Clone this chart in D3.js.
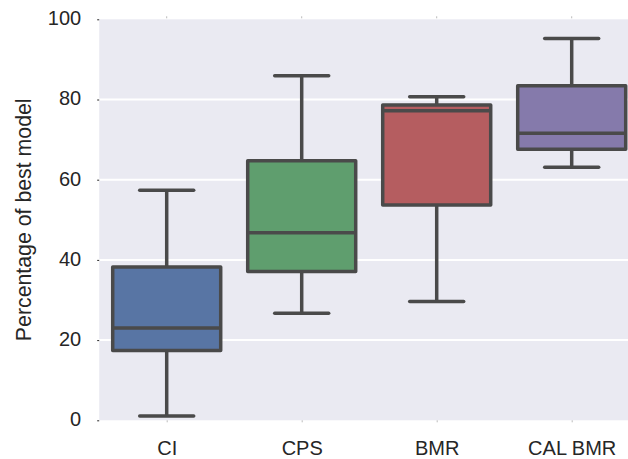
<!DOCTYPE html>
<html>
<head>
<meta charset="utf-8">
<script src="https://cdn.jsdelivr.net/npm/d3@7"></script>
<style>
  html, body { margin: 0; padding: 0; background: #fff; }
  svg { display: block; font-family: "Liberation Sans", Arial, sans-serif; }
</style>
</head>
<body>
<svg id="chart" width="628" height="459"></svg>
<script>
// ---- data ----
const categories = ["CI", "CPS", "BMR", "CAL BMR"];
const whiskerLow  = [1.1, 26.7, 29.6, 63.1];
const q1          = [17.4, 37.1, 53.7, 67.6];
const medians     = [23.0, 46.8, 77.2, 71.6];
const q3          = [38.2, 64.7, 78.6, 83.4];
const whiskerHigh = [57.4, 85.9, 80.7, 95.2];
const boxColors   = ["#5875a4", "#5f9e6e", "#b55d60", "#857aab"];
const yTicks      = [0, 20, 40, 60, 80, 100];
const yLabel      = "Percentage of best model";

(function () {
// ---- layout ----
const pL = 99.2, pR = 639.2, pT = 19.3, pB = 420.3;
const svg = d3.select("#chart");

const x = d3.scalePoint().domain(categories).range([pL, pR]).padding(0.5);
const y = d3.scaleLinear().domain([0, 100]).range([pB, pT]);
const step = x.step();
const boxW = step * 0.8;
const capW = boxW * 0.5;
const lineColor = "#4a4a4a";
const lw = 3.5;

// background
svg.append("rect")
  .attr("x", pL).attr("y", pT)
  .attr("width", pR - pL).attr("height", pB - pT)
  .attr("fill", "#eaeaf2");

// grid lines
svg.append("g").selectAll("line")
  .data(yTicks.filter(d => d > 0 && d < 100))
  .join("line")
  .attr("x1", pL).attr("x2", pR)
  .attr("y1", d => y(d)).attr("y2", d => y(d))
  .attr("stroke", "#ffffff").attr("stroke-width", 2);

// y axis
const yAxis = d3.axisLeft(y).tickValues(yTicks).tickSize(2).tickPadding(16);
const gy = svg.append("g").attr("transform", `translate(${pL},0)`).call(yAxis);
gy.select(".domain").remove();
gy.selectAll(".tick line").attr("stroke", "#262626").attr("stroke-width", 1);
gy.selectAll(".tick text")
  .attr("font-size", 20).attr("fill", "#262626")
  .attr("dy", null).attr("y", 5.3)
  .style("font-family", "'Liberation Sans', Arial, sans-serif");

// x axis
const xAxis = d3.axisBottom(x).tickSize(2).tickPadding(24);
const gx = svg.append("g").attr("transform", `translate(0,${pB})`).call(xAxis);
gx.select(".domain").remove();
gx.selectAll(".tick line").attr("stroke", "#bbbbbb").attr("stroke-width", 1);
gx.selectAll(".tick text")
  .attr("font-size", 20).attr("fill", "#262626")
  .attr("dy", null).attr("y", 34.7)
  .style("font-family", "'Liberation Sans', Arial, sans-serif");

// top tick marks
svg.append("g").selectAll("line").data(categories).join("line")
  .attr("x1", d => x(d)).attr("x2", d => x(d))
  .attr("y1", pT - 3).attr("y2", pT - 1)
  .attr("stroke", "#bbbbbb").attr("stroke-width", 1);

// y label
svg.append("text")
  .attr("transform", `translate(30.5,${(pT + pB) / 2}) rotate(-90)`)
  .attr("text-anchor", "middle")
  .attr("font-size", 21.3)
  .attr("fill", "#262626")
  .text(yLabel);

// boxes
const data = categories.map((c, i) => ({
  c, lo: whiskerLow[i], q1: q1[i], med: medians[i], q3: q3[i], hi: whiskerHigh[i], color: boxColors[i]
}));

const bx = svg.append("g").selectAll("g.box").data(data).join("g").attr("class", "box");

bx.append("line")
  .attr("x1", d => x(d.c)).attr("x2", d => x(d.c))
  .attr("y1", d => y(d.q3)).attr("y2", d => y(d.hi))
  .attr("stroke", lineColor).attr("stroke-width", lw);
bx.append("line")
  .attr("x1", d => x(d.c)).attr("x2", d => x(d.c))
  .attr("y1", d => y(d.q1)).attr("y2", d => y(d.lo))
  .attr("stroke", lineColor).attr("stroke-width", lw);
bx.append("line")
  .attr("x1", d => x(d.c) - capW / 2).attr("x2", d => x(d.c) + capW / 2)
  .attr("y1", d => y(d.hi)).attr("y2", d => y(d.hi))
  .attr("stroke", lineColor).attr("stroke-width", lw).attr("stroke-linecap", "round");
bx.append("line")
  .attr("x1", d => x(d.c) - capW / 2).attr("x2", d => x(d.c) + capW / 2)
  .attr("y1", d => y(d.lo)).attr("y2", d => y(d.lo))
  .attr("stroke", lineColor).attr("stroke-width", lw).attr("stroke-linecap", "round");
bx.append("rect")
  .attr("x", d => x(d.c) - boxW / 2).attr("width", boxW)
  .attr("y", d => y(d.q3)).attr("height", d => y(d.q1) - y(d.q3))
  .attr("fill", d => d.color)
  .attr("stroke", lineColor).attr("stroke-width", lw).attr("stroke-linejoin", "round");
bx.append("line")
  .attr("x1", d => x(d.c) - boxW / 2).attr("x2", d => x(d.c) + boxW / 2)
  .attr("y1", d => y(d.med)).attr("y2", d => y(d.med))
  .attr("stroke", lineColor).attr("stroke-width", lw);
})();
</script>
</body>
</html>
